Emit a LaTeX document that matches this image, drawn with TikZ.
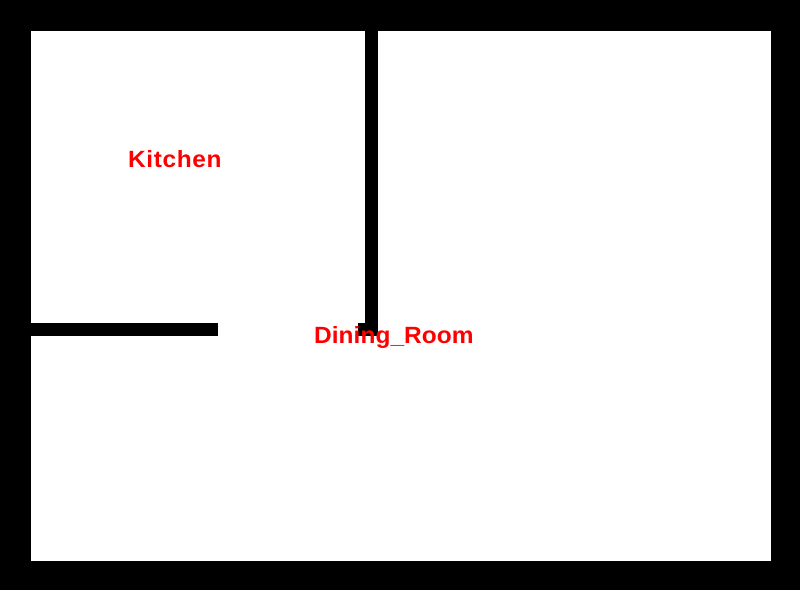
\documentclass[tikz,border=0pt]{standalone}
\usepackage{fontspec}
\setmainfont{Liberation Sans}
\newfontfamily\kitchenfont[LetterSpace=2.6,FakeStretch=1.04]{Liberation Sans}
\newfontfamily\diningfont[LetterSpace=0.2,FakeStretch=1.04]{Liberation Sans}
\tikzset{roomlabel/.style={text=red,inner sep=0pt,anchor=base west}}
\begin{document}
\begin{tikzpicture}[x=1pt,y=-1pt]
\useasboundingbox (0,0) rectangle (800,590);
\fill[black] (0,0) rectangle (800,590);
\fill[white] (31,31) rectangle (771,561);
\fill[black] (365,31) rectangle (378,336);
\fill[black] (31,323) rectangle (218,336);
\fill[black] (358,323) rectangle (378,336);
\node[roomlabel,font=\kitchenfont\bfseries\fontsize{23.5pt}{26pt}\selectfont] (kitchen) at (128,167) {Kitchen};
\node[roomlabel,font=\diningfont\bfseries\fontsize{23.5pt}{26pt}\selectfont] (dining) at (314,343) {Dining\_Room};
\end{tikzpicture}
\end{document}
